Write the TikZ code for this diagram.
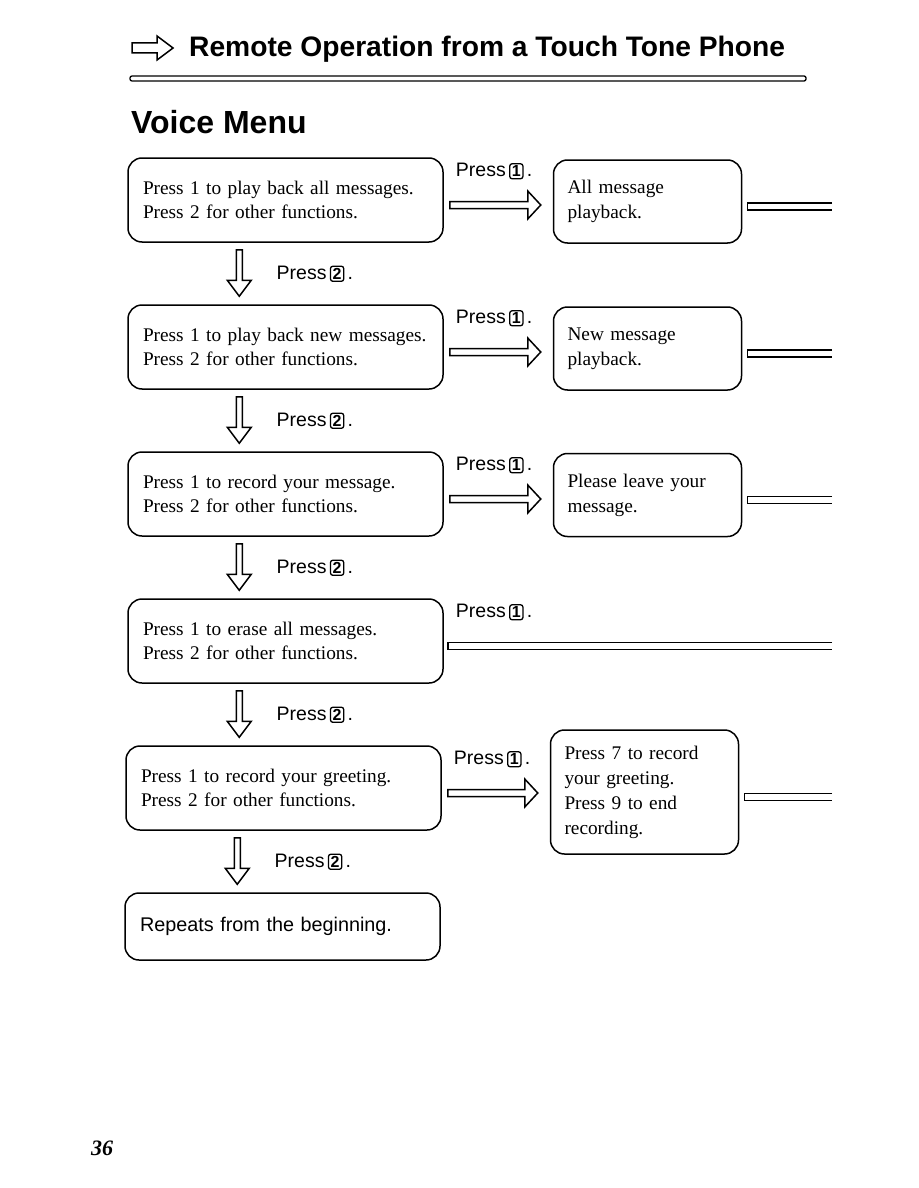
\documentclass[tikz,border=0pt]{standalone}
\usepackage{fontspec}
\setmainfont{Liberation Serif}
\setsansfont{Liberation Sans}
\usetikzlibrary{positioning,calc}

% key drawn as a small framed digit
\newcommand\keycap[1]{\tikz[baseline=(kc.base)]\node[draw, line width=1.3pt, rounded corners=2.5pt,
  inner xsep=2.2pt, inner ysep=2pt, font=\sffamily\bfseries\fontsize{16}{16}\selectfont] (kc) {#1};}

% hollow arrow to the right, from one box to the next
\newcommand\rightarr[2]{%
  \draw[hollow] let \p1=($(#1.east)+(6,5)$), \p2=($(#2.west)+(-12,5)$) in
    (\x1,{\y1+3.5pt}) -- ({\x2-13pt},{\y1+3.5pt}) -- ({\x2-13pt},{\y1+14pt}) -- (\x2,\y1)
    -- ({\x2-13pt},{\y1-14pt}) -- ({\x2-13pt},{\y1-3.5pt}) -- (\x1,{\y1-3.5pt}) -- cycle;}

% hollow arrow downwards
\newcommand\downarr[2]{%
  \draw[hollow] let \p1=($(#1.south west)+(112,7)$), \p2=($(#2.north)+(0,-8)$) in
    ({\x1-3pt},\y1) -- ({\x1-3pt},{\y2+16pt}) -- ({\x1-12pt},{\y2+16pt}) -- (\x1,\y2)
    -- ({\x1+12pt},{\y2+16pt}) -- ({\x1+3pt},{\y2+16pt}) -- ({\x1+3pt},\y1) -- cycle;}

% open bar running off the page
\newcommand\stub[2]{%
  \draw[hollow] let \p1=($(#1.east)+(#2,5)$), \p2=(cut) in
    (\x2,{\y1+3.5pt}) -- (\x1,{\y1+3.5pt}) -- (\x1,{\y1-3.5pt}) -- (\x2,{\y1-3.5pt});}

\begin{document}
\begin{tikzpicture}[x=1pt, y=-1pt,
  node distance=61.5pt,
  menubox/.style={
    draw, line width=1.5pt, rounded corners=14pt, minimum height=84pt,
    text width=285pt, inner xsep=15pt, align=left,
    font=\fontsize{19.3}{24.5}\selectfont
  },
  resultbox/.style={
    draw, line width=1.5pt, rounded corners=14pt, minimum height=83pt,
    text width=160pt, inner xsep=14pt, align=left,
    font=\fontsize{19.3}{25}\selectfont
  },
  presslbl/.style={anchor=west, inner sep=0pt, font=\sffamily\fontsize{19.5}{22}\selectfont},
  hollow/.style={line width=1.5pt, line join=miter}
]
\useasboundingbox (0,0) rectangle (918,1188);

% heading
\draw[hollow] (132,43) -- (157,43) -- (157,36) -- (173,48) -- (157,60) -- (157,53) -- (132,53) -- cycle;
\node[anchor=base west, inner sep=0pt, font=\sffamily\bfseries\fontsize{28.2}{28}\selectfont] (title) at (189,57)
  {Remote Operation from a Touch Tone Phone};
\draw[line width=1.3pt, rounded corners=2pt] (130,76) rectangle (806,81);
\node[anchor=base west, inner sep=0pt, font=\sffamily\bfseries\fontsize{32}{32}\selectfont] (voice) at (131,133)
  {Voice Menu};

% menu boxes
\node[menubox] (m1) at (285.5,200) {Press 1 to play back all messages.\\Press 2 for other functions.};
\node[menubox, below=of m1] (m2) {Press 1 to play back new messages.\\Press 2 for other functions.};
\node[menubox, below=of m2] (m3) {Press 1 to record your message.\\Press 2 for other functions.};
\node[menubox, below=of m3] (m4) {Press 1 to erase all messages.\\Press 2 for other functions.};
\node[menubox, below=of m4, xshift=-2pt] (m5) {Press 1 to record your greeting.\\Press 2 for other functions.};
\node[menubox, below=of m5, minimum height=67pt, xshift=-1pt, font=\sffamily\fontsize{19.8}{22}\selectfont] (m6)
  {Repeats from the beginning.};

% result boxes
\node[resultbox, right=109pt of m1, yshift=-1.5pt] (r1) {All message\\playback.};
\node[resultbox, right=109pt of m2, yshift=-1.5pt] (r2) {New message\\playback.};
\node[resultbox, right=109pt of m3, yshift=-1pt] (r3) {Please leave your\\message.};
\node[resultbox, right=108pt of m5, yshift=-4pt, minimum height=124pt] (r5)
  {Press 7 to record\\your greeting.\\Press 9 to end\\recording.};

\coordinate (cut) at (832,0);

% Press 1 arrows
\foreach \i in {1,2,3,5} {
  \rightarr{m\i}{r\i}
  \stub{r\i}{5}
}
\stub{m4}{4}

% Press 2 arrows
\foreach \i [evaluate=\i as \j using int(\i+1)] in {1,...,5} {
  \downarr{m\i}{m\j}
}

% labels
\foreach \i in {1,...,5} {
  \node[presslbl] (pa\i) at ($(m\i.north east)+(12,14)$) {Press\,\keycap{1}\,.};
  \node[presslbl] (pb\i) at ($(m\i.south)+(-9,31)$) {Press\,\keycap{2}\,.};
}

% page number
\node[anchor=base west, inner sep=0pt, font=\bfseries\itshape\fontsize{22}{22}\selectfont] (page) at (91,1155) {36};
\end{tikzpicture}
\end{document}
